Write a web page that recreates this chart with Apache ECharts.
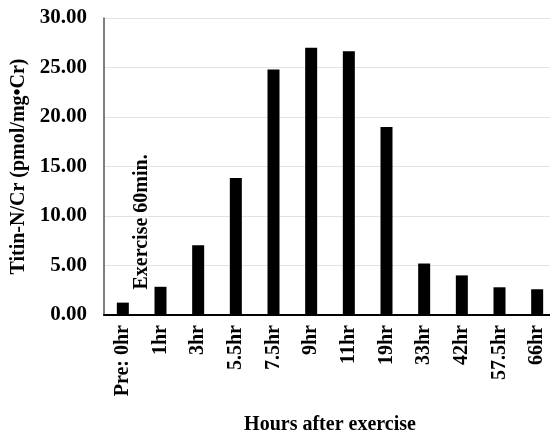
<!DOCTYPE html>
<html>
<head>
<meta charset="utf-8">
<script src="https://cdn.jsdelivr.net/npm/echarts@6/dist/echarts.min.js"></script>
<style>
  html, body { margin: 0; padding: 0; background: #fff; }
  #chart { width: 550px; height: 431px; }
</style>
</head>
<body>
<div id="chart"></div>
<script>
const categories = ['Pre: 0hr', '1hr', '3hr', '5.5hr', '7.5hr', '9hr', '11hr', '19hr', '33hr', '42hr', '57.5hr', '66hr']
const titinValues = [1.25, 2.85, 7.05, 13.85, 24.8, 27.0, 26.65, 19.0, 5.2, 4.0, 2.8, 2.6]
const annotationText = 'Exercise 60min.'

const font = '"Liberation Serif", "Times New Roman", serif'
const chart = echarts.init(document.getElementById('chart'))

chart.setOption({
  animation: false,
  grid: {
    left: 104,
    top: 18,
    width: 452,
    height: 297,
    outerBoundsMode: 'none'
  },
  xAxis: {
    type: 'category',
    data: categories,
    name: 'Hours after exercise',
    nameLocation: 'middle',
    nameGap: 100,
    nameTextStyle: {
      fontFamily: font,
      fontWeight: 'bold',
      fontSize: 20,
      color: '#000'
    },
    axisLine: {
      lineStyle: { color: '#000', width: 2 }
    },
    axisTick: { show: false },
    axisLabel: {
      rotate: 90,
      interval: 0,
      margin: 10,
      fontFamily: font,
      fontWeight: 'bold',
      fontSize: 20,
      color: '#000'
    }
  },
  yAxis: {
    type: 'value',
    min: 0,
    max: 30,
    interval: 5,
    name: 'Titin-N/Cr (pmol/mg\u2022Cr)',
    nameLocation: 'middle',
    nameGap: 71,
    nameTextStyle: {
      fontFamily: font,
      fontWeight: 'bold',
      fontSize: 20,
      color: '#000'
    },
    axisLine: {
      show: true,
      lineStyle: { color: '#555', width: 1.5 }
    },
    axisTick: { show: false },
    axisLabel: {
      margin: 17,
      formatter: function(v) { return v.toFixed(2) },
      fontFamily: font,
      fontWeight: 'bold',
      fontSize: 21,
      color: '#000'
    },
    splitLine: {
      lineStyle: { color: '#e3e3e3', width: 1 }
    }
  },
  series: [{
    type: 'bar',
    data: titinValues,
    barWidth: 12,
    itemStyle: { color: '#000' }
  }]
})

// place the vertical annotation between the first two categories
const p0 = chart.convertToPixel({ seriesIndex: 0 }, [0, 0])
const p1 = chart.convertToPixel({ seriesIndex: 0 }, [1, 0])
const pMid = chart.convertToPixel({ seriesIndex: 0 }, [0, 9.4])
chart.setOption({
  graphic: [{
    type: 'text',
    x: (p0[0] + p1[0]) / 2,
    y: pMid[1],
    rotation: Math.PI / 2,
    style: {
      text: annotationText,
      fontFamily: font,
      fontWeight: 'bold',
      fontSize: 20,
      fill: '#000',
      align: 'center',
      verticalAlign: 'middle'
    }
  }]
})
</script>
</body>
</html>
